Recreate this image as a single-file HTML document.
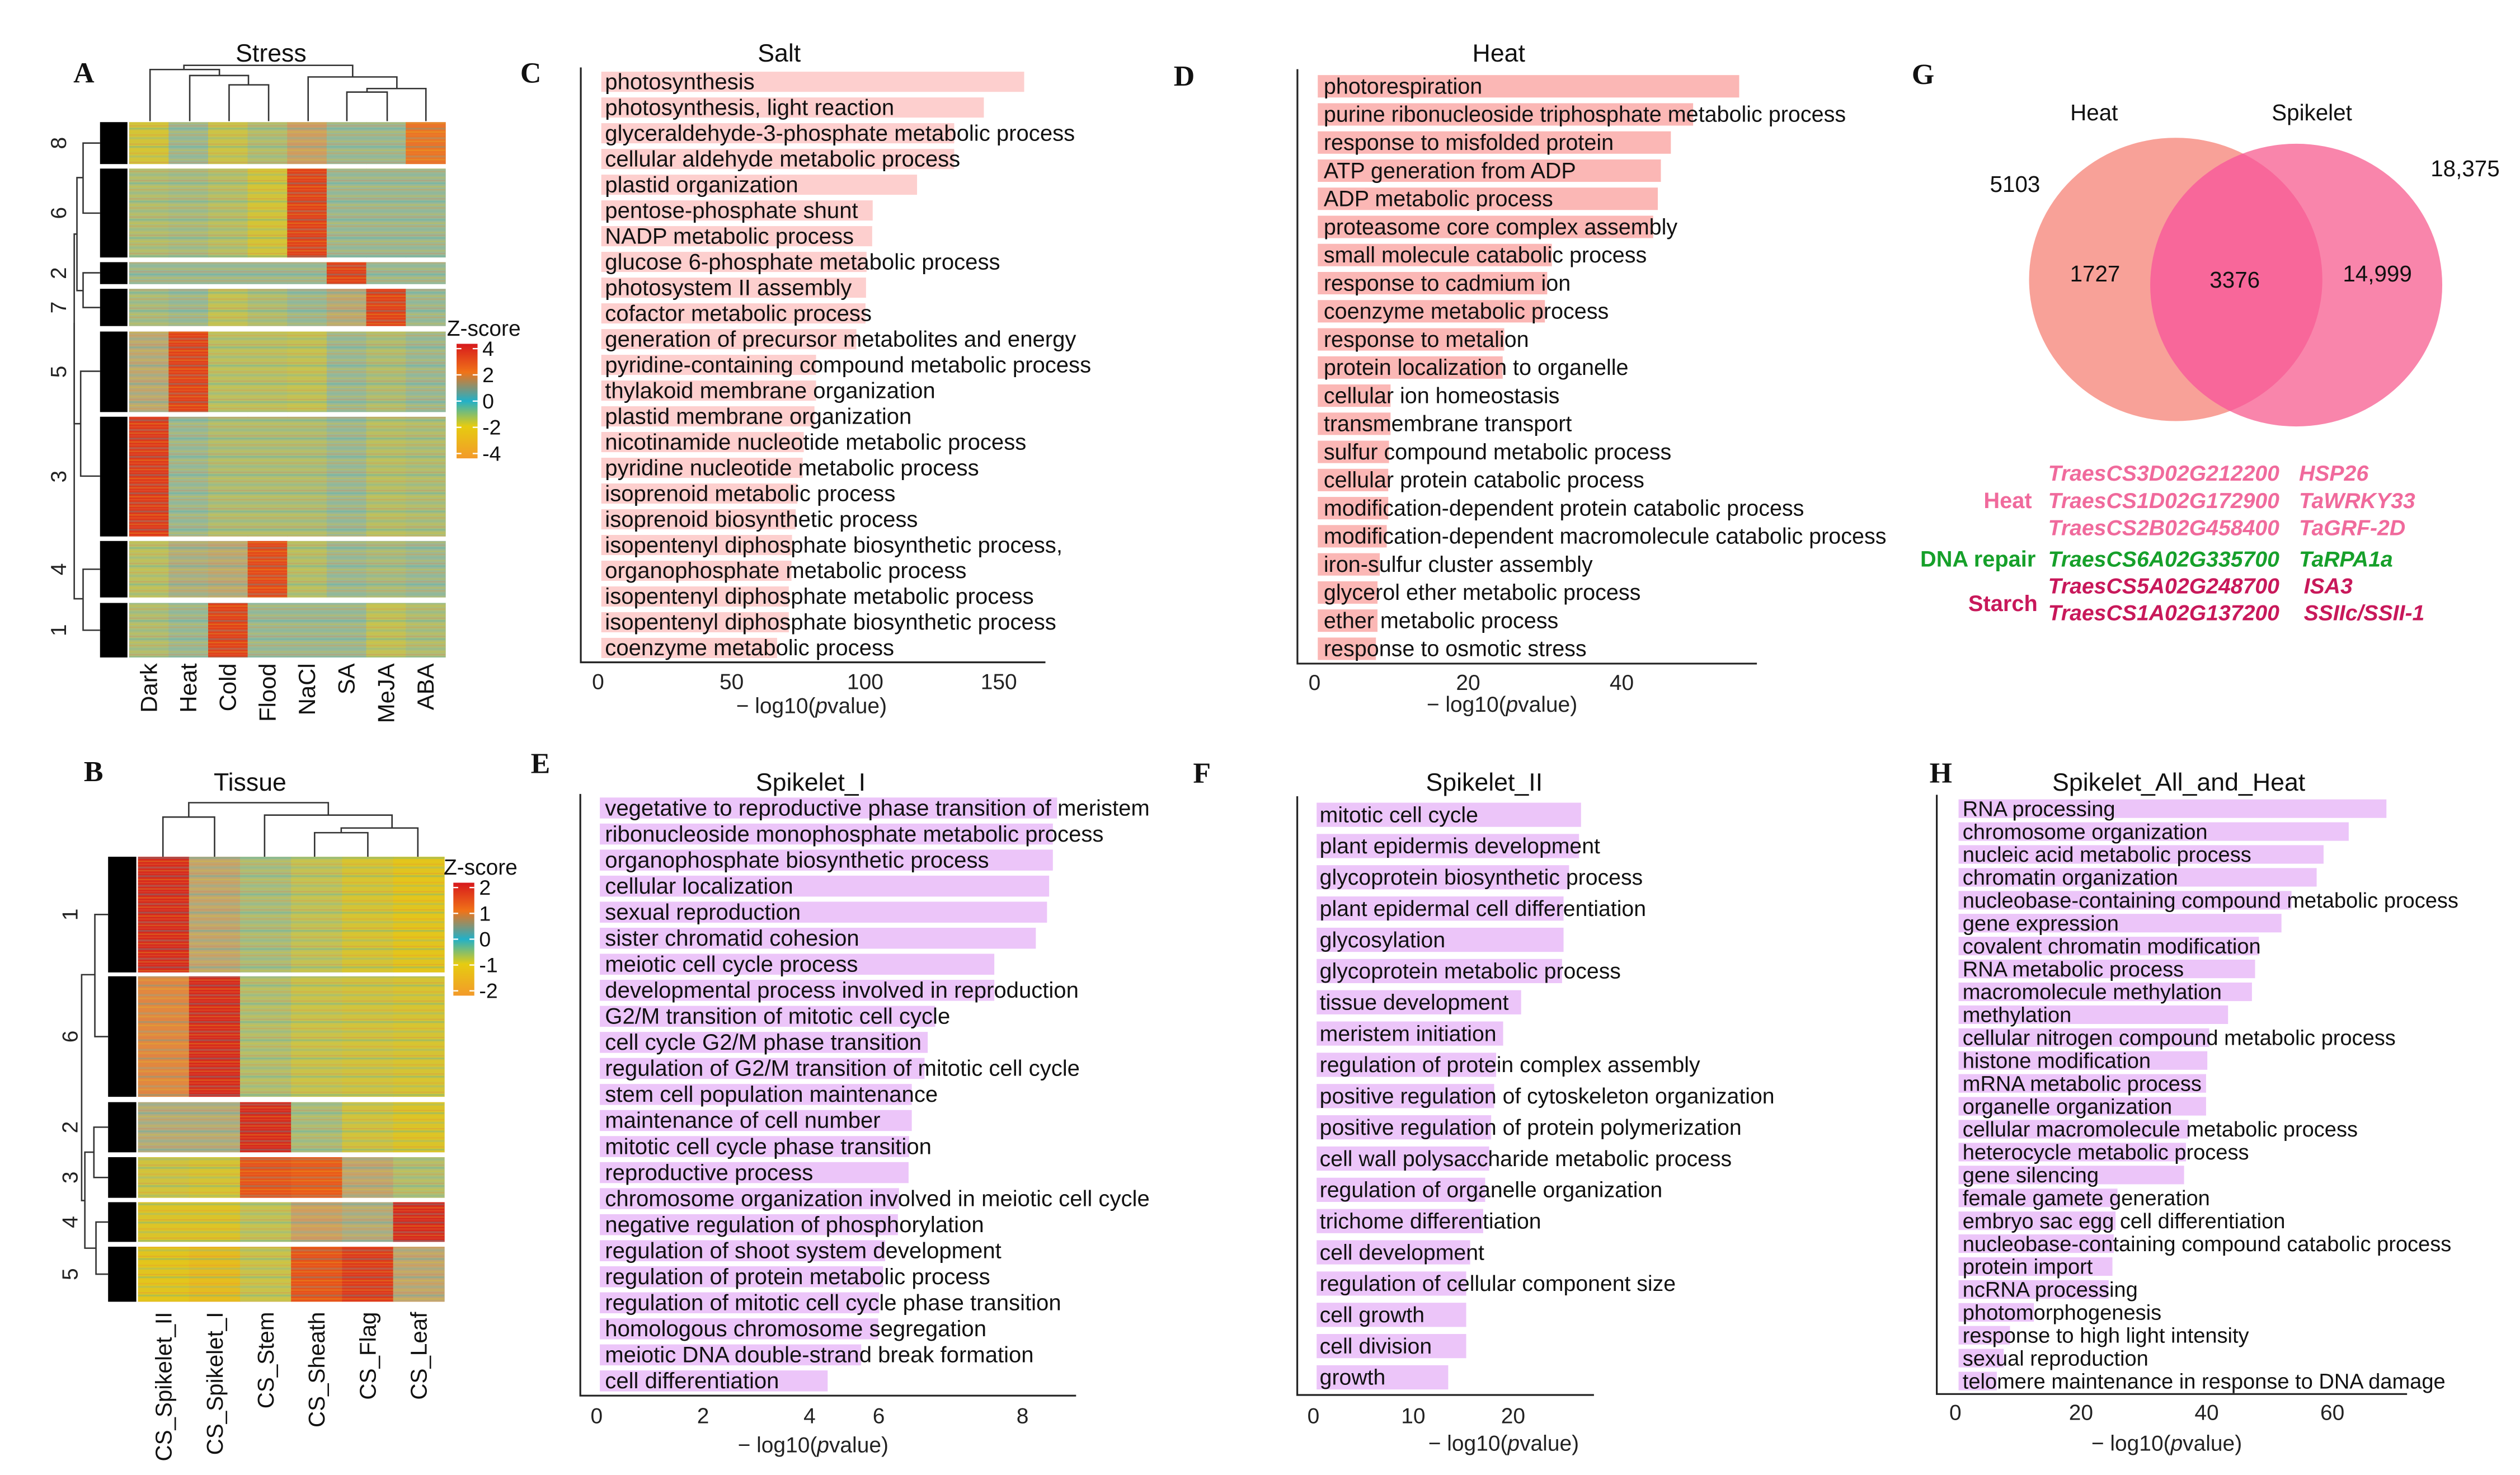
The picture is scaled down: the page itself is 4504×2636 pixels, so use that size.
<!DOCTYPE html>
<html><head><meta charset="utf-8">
<style>
html,body{margin:0;padding:0;background:#fff;}
svg{display:block;font-family:"Liberation Sans",Arial,sans-serif;}
.lbl{fill:#111;}
.tick{font-size:13.5px;fill:#222;}
.ttl{font-size:15.5px;fill:#111;}
.letter{font-family:"Liberation Serif",serif;font-weight:bold;font-size:18px;fill:#111;}
.gene{font-weight:bold;font-style:italic;font-size:13.6px;}
</style></head>
<body>
<svg id="fig" width="4504" height="2636" viewBox="0 0 1562 914" xmlns="http://www.w3.org/2000/svg">
<defs>
<linearGradient id="gz" x1="0" y1="0" x2="0" y2="1">
<stop offset="0" stop-color="#d7191c"/><stop offset="0.25" stop-color="#f07318"/><stop offset="0.5" stop-color="#22b0c8"/><stop offset="0.72" stop-color="#e6cc10"/><stop offset="1" stop-color="#f39a2a"/>
</linearGradient>
<pattern id="stripes" patternUnits="userSpaceOnUse" width="300" height="11.3">
<rect x="0" y="0" width="300" height="1.1" fill="#30b0c8"/>
<rect x="0" y="2.2" width="300" height="0.9" fill="#e8c818"/>
<rect x="0" y="4.1" width="300" height="0.8" fill="#f08a30"/>
<rect x="0" y="5.9" width="300" height="1.2" fill="#6cb8b0"/>
<rect x="0" y="8.0" width="300" height="0.9" fill="#d8c030"/>
<rect x="0" y="9.8" width="300" height="0.7" fill="#e07050"/>
</pattern>
</defs>
<g id="root"></g>
</svg>
<script>
// ---------- DATA ----------
const stressCols = ["Dark","Heat","Cold","Flood","NaCl","SA","MeJA","ABA"];
const stressClusters = ["8","6","2","7","5","3","4","1"];
const stressZ = [
 [-1.5,0,-1.2,-0.5,0.8,0,0,1.8],
 [-0.5,-0.3,-0.7,-1.5,3,0,0,0],
 [0,0,0,0,0,3,0,0],
 [-0.3,0,-1,-0.5,0,0.5,3,0],
 [0.5,3,-0.8,-0.8,-1,0,-0.5,0],
 [3.2,0,-0.5,-0.5,-0.5,0,-0.7,-0.5],
 [-0.8,0.3,0.5,2.8,-0.7,0,-0.3,0],
 [-0.5,0,3,0,0,0,-1,-0.5]
];
const stressTicks = ["4","2","0","-2","-4"];
const tissueCols = ["CS_Spikelet_II","CS_Spikelet_I","CS_Stem","CS_Sheath","CS_Flag","CS_Leaf"];
const tissueClusters = ["1","6","2","3","4","5"];
const tissueZ = [
 [1.8,0.3,-0.2,-0.5,-0.8,-1],
 [0.7,1.8,-0.3,-0.6,-0.7,-0.8],
 [0.2,0.2,1.8,-0.2,-0.7,-0.9],
 [-0.7,-0.8,1.3,1.2,0.3,-0.3],
 [-0.9,-0.9,-0.5,0.4,0.2,1.8],
 [-1,-1.2,-0.6,1.3,1.6,0.3]
];
const tissueTicks = ["2","1","0","-1","-2"];

const saltTerms = ["photosynthesis","photosynthesis, light reaction","glyceraldehyde-3-phosphate metabolic process","cellular aldehyde metabolic process","plastid organization","pentose-phosphate shunt","NADP metabolic process","glucose 6-phosphate metabolic process","photosystem II assembly","cofactor metabolic process","generation of precursor metabolites and energy","pyridine-containing compound metabolic process","thylakoid membrane organization","plastid membrane organization","nicotinamide nucleotide metabolic process","pyridine nucleotide metabolic process","isoprenoid metabolic process","isoprenoid biosynthetic process","isopentenyl diphosphate biosynthetic process,","organophosphate metabolic process","isopentenyl diphosphate metabolic process","isopentenyl diphosphate biosynthetic process","coenzyme metabolic process"];
const saltValues = [159.5,144.4,133.3,133.3,119.4,102.8,102.6,100.5,100.3,100.1,96.7,81.6,81.6,81,77,76.6,74.6,74,72.6,72.4,71.4,71.4,67];
const saltTicks = [0,50,100,150];

const heatTerms = ["photorespiration","purine ribonucleoside triphosphate metabolic process","response to misfolded protein","ATP generation from ADP","ADP metabolic process","proteasome core complex assembly","small molecule catabolic process","response to cadmium ion","coenzyme metabolic process","response to metalion","protein localization to organelle","cellular ion homeostasis","transmembrane transport","sulfur compound metabolic process","cellular protein catabolic process","modification-dependent protein catabolic process","modification-dependent macromolecule catabolic process","iron-sulfur cluster assembly","glycerol ether metabolic process","ether metabolic process","response to osmotic stress"];
const heatValues = [55.3,49.3,46.4,45.1,44.7,44.1,30.9,30.3,30,24.7,24.5,9.9,9.9,9.7,9.6,9.6,9.4,8.5,8.2,8.2,8];
const heatTicks = [0,20,40];

const sp1Terms = ["vegetative to reproductive phase transition of meristem","ribonucleoside monophosphate metabolic process","organophosphate biosynthetic process","cellular localization","sexual reproduction","sister chromatid cohesion","meiotic cell cycle process","developmental process involved in reproduction","G2/M transition of mitotic cell cycle","cell cycle G2/M phase transition","regulation of G2/M transition of mitotic cell cycle","stem cell population maintenance","maintenance of cell number","mitotic cell cycle phase transition","reproductive process","chromosome organization involved in meiotic cell cycle","negative regulation of phosphorylation","regulation of shoot system development","regulation of protein metabolic process","regulation of mitotic cell cycle phase transition","homologous chromosome segregation","meiotic DNA double-strand break formation","cell differentiation"];
const sp1Values = [8.65,8.57,8.57,8.5,8.46,8.25,7.47,7.47,6.36,6.22,6.16,5.92,5.92,5.87,5.86,5.68,5.66,5.42,5.38,5.31,5.29,4.97,4.34];
const sp1TickPos = [0,2,4,5.3,8];
const sp1TickLabels = ["0","2","4","6","8"];

const sp2Terms = ["mitotic cell cycle","plant epidermis development","glycoprotein biosynthetic process","plant epidermal cell differentiation","glycosylation","glycoprotein metabolic process","tissue development","meristem initiation","regulation of protein complex assembly","positive regulation of cytoskeleton organization","positive regulation of protein polymerization","cell wall polysaccharide metabolic process","regulation of organelle organization","trichome differentiation","cell development","regulation of cellular component size","cell growth","cell division","growth"];
const sp2Values = [26.8,26.6,25.6,25.05,25.05,24.9,20.8,19,18.3,18.1,17.8,17.6,17.2,17,15.7,15.3,15.3,15.3,13.5];
const sp2Ticks = [0,10,20];

const allTerms = ["RNA processing","chromosome organization","nucleic acid metabolic process","chromatin organization","nucleobase-containing compound metabolic process","gene expression","covalent chromatin modification","RNA metabolic process","macromolecule methylation","methylation","cellular nitrogen compound metabolic process","histone modification","mRNA metabolic process","organelle organization","cellular macromolecule metabolic process","heterocycle metabolic process","gene silencing","female gamete generation","embryo sac egg cell differentiation","nucleobase-containing compound catabolic process","protein import","ncRNA processing","photomorphogenesis","response to high light intensity","sexual reproduction","telomere maintenance in response to DNA damage"];
const allValues = [68.6,62.6,58.6,57.5,53.5,51.9,48.3,47.7,47.2,43.4,40.4,40.1,39.9,39.9,37.1,36.7,36.4,25.8,25.5,25.2,25,24.4,12.5,8.7,7.7,6.6];
const allTicks = [0,20,40,60];

const vennSets = ["Heat","Spikelet"];
const vennTotals = ["5103","18,375"];
const vennRegions = ["1727","3376","14,999"];

// ---------- HELPERS ----------
const NS = "http://www.w3.org/2000/svg";
const root = document.getElementById('root');
function mk(tag, attrs, parent, text){
  const e = document.createElementNS(NS, tag);
  for (const k in attrs) e.setAttribute(k, attrs[k]);
  if (text !== undefined) e.textContent = text;
  (parent || root).appendChild(e);
  return e;
}
function hex(c){return [parseInt(c.slice(1,3),16),parseInt(c.slice(3,5),16),parseInt(c.slice(5,7),16)];}
const stops = [[-4,"#f39a2a"],[-2,"#e2c51c"],[-1,"#c0c25a"],[0,"#9cb894"],[1,"#d69a5c"],[2,"#ef6a18"],[3,"#e0401a"],[4,"#cf1a1e"]];
function zcol(z){
  z = Math.max(-4, Math.min(4, z));
  for (let i=0;i<stops.length-1;i++){
    const a=stops[i], b=stops[i+1];
    if (z>=a[0] && z<=b[0]){
      const t=(z-a[0])/(b[0]-a[0]); const ca=hex(a[1]), cb=hex(b[1]);
      return "rgb("+ca.map((v,k)=>Math.round(v+(cb[k]-v)*t)).join(",")+")";
    }
  }
  return stops[stops.length-1][1];
}

// ---------- HEATMAPS ----------
function heatmap(cfg){
  const g = mk('g', {});
  
  
  const cw = (cfg.x1 - cfg.x0) / cfg.cols.length;
  cfg.clusters.forEach((cl, i) => {
    const y0 = cfg.bounds[i][0], y1 = cfg.bounds[i][1];
    cfg.z[i].forEach((z, j) => {
      const r = mk('rect', {x:cfg.x0 + j*cw, y:y0, width:cw+0.3, height:y1-y0, fill:zcol(z*cfg.zmul)}, g);
      
      
    });
    const st = mk('rect', {x:cfg.x0, y:y0, width:cfg.x1-cfg.x0, height:y1-y0, fill:"url(#stripes)", opacity:0.28}, g);
    
    
    const blob = mk('rect', {x:cfg.bx0, y:y0, width:cfg.x0-cfg.bx0-1, height:y1-y0, fill:"#000"}, g);
    
    
    const t = mk('text', {x:cfg.rlx, y:(y0+y1)/2, class:"tick", 'text-anchor':"middle", transform:`rotate(-90 ${cfg.rlx} ${(y0+y1)/2})`, dy:5}, g, cl);
    
    
  });
  cfg.cols.forEach((c, j) => {
    const x = cfg.x0 + (j+0.5)*cw + 5;
    const t = mk('text', {x:x, y:cfg.clY, 'text-anchor':"end", style:"font-size:"+cfg.clFont+"px", fill:"#111", transform:`rotate(-90 ${x} ${cfg.clY})`}, g, c);
    
    
  });
  return {g, cw};
}
heatmap({name:"stress-heatmap", x0:80, x1:276, bx0:62, cols:stressCols, clusters:stressClusters, z:stressZ, zmul:1,
  bounds:[[75.6,101.6],[104.4,159.5],[162.4,176],[178.9,202],[205.4,255.3],[258.2,332.4],[335.2,370.2],[373.6,407.4]], rlx:36, clY:411, clFont:14.5});
heatmap({name:"tissue-heatmap", x0:85.5, x1:275.3, bx0:67, cols:tissueCols, clusters:tissueClusters, z:tissueZ, zmul:2,
  bounds:[[530.9,602.6],[605,679.7],[683,714.1],[717.1,742.3],[745,769.6],[772.6,806.7]], rlx:43, clY:813, clFont:14});

// dendrograms (decorative)
function paths(list, name){
  list.forEach(d => {
    const p = mk('path', {d:d, fill:"none", stroke:"#333", 'stroke-width':0.9});
    
    
  });
}
paths([
 "M93 75V43H136V46.7", "M117.6 75V46.7H154V52.5", "M142 75V52.5H166.5V75",
 "M114 43V40.4H218.6V47.6", "M191 75V47.6H246V54.8", "M227.5 57V54.8H264V75", "M215 75V57H240V75"
], "stress-column-dendrogram");
paths([
 "M62 88.6H51.5V132H62", "M62 169H51.5V190.5H62", "M51.5 110H47.7V180H51.5",
 "M62 230H50V295H62", "M62 352.7H51.5V390.5H62", "M47.7 145H46V262.5H50", "M51.5 371H46V200"
], "stress-row-dendrogram");
paths([
 "M101 530.9V506.3H133V530.9", "M164 530.9V505.1H243V513.1", "M195 530.9V516H228V530.9",
 "M211.5 516V513.1H259V530.9", "M117 506.3V497.4H203.5V505.1"
], "tissue-column-dendrogram");
paths([
 "M67 566.7H58.8V642.4H67", "M67 698.5H58.2V729.7H67", "M67 757.3H59.5V789.6H67",
 "M58.2 714H52.6V773.5H59.5", "M58.8 604H50.6V744H52.6"
], "tissue-row-dendrogram");

// legends
function zlegend(x, y, h, title, ticks, name){
  const g = mk('g', {});
  
  
  mk('text', {x:x-6, y:y-5, 'font-size':13.5, fill:"#111"}, g, title);
  mk('rect', {x:x, y:y, width:13, height:h, fill:"url(#gz)"}, g);
  ticks.forEach((t, i) => {
    const yy = y + 3 + i*(h-6)/(ticks.length-1);
    mk('line', {x1:x, x2:x+3, y1:yy, y2:yy, stroke:"#fff", 'stroke-width':0.8}, g);
    mk('line', {x1:x+10, x2:x+13, y1:yy, y2:yy, stroke:"#fff", 'stroke-width':0.8}, g);
    mk('text', {x:x+16, y:yy+4.5, 'font-size':13, fill:"#111"}, g, t);
  });
}
zlegend(283, 213, 71, "Z-score", stressTicks, "stress-zscore-legend");
zlegend(281, 547, 70, "Z-score", tissueTicks, "tissue-zscore-legend");

// ---------- BAR PANELS ----------
function barPanel(c){
  const g = mk('g', {});
  
  
  const xs = v => c.x0 + v * c.k;
  const ax = mk('path', {d:`M${c.ax} ${c.top}V${c.bottom}H${c.axEnd}`, fill:"none", stroke:"#222", 'stroke-width':1.1}, g);
  
  
  c.values.forEach((v, i) => {
    const cy = c.y0 + i*c.step;
    const b = mk('rect', {x:xs(0)+2, y:cy-c.bh/2, width:Math.max(0, xs(v)-xs(0)-2), height:c.bh, fill:c.color}, g);
    
    
  });
  c.terms.forEach((t, i) => {
    const cy = c.y0 + i*c.step;
    const tx = mk('text', {x:c.lx, y:cy+4.6, class:"lbl", style:"font-size:"+c.fs+"px"}, g, t);
    
    
  });
  c.tickPos.forEach((v, i) => {
    const tk = mk('text', {x:xs(v), y:c.tickY, class:"tick", 'text-anchor':"middle"}, g, c.tickLabels[i]);
    
    
  });
  const at = mk('text', {x:c.atx, y:c.aty, class:"tick", 'text-anchor':"middle"}, g);
  
  
  mk('tspan', {}, at, "\u2212 log10(");
  mk('tspan', {'font-style':"italic"}, at, "p");
  mk('tspan', {}, at, "value)");
  const tt = mk('text', {x:c.tx, y:c.ty, class:"ttl", 'text-anchor':"middle"}, g, c.title);
  
  
}
barPanel({name:"salt-go-chart", title:"Salt", tx:483, ty:38, terms:saltTerms, values:saltValues, tickPos:saltTicks, tickLabels:saltTicks.map(String),
  x0:370.7, k:1.656, ax:360, top:41.7, bottom:410.4, axEnd:648, y0:50.6, step:15.95, bh:12.5, lx:375, fs:13.9, color:"#fdcfce", tickY:427, atx:503, aty:442});
barPanel({name:"heat-go-chart", title:"Heat", tx:929, ty:38, terms:heatTerms, values:heatValues, tickPos:heatTicks, tickLabels:heatTicks.map(String),
  x0:814.8, k:4.76, ax:804.2, top:42.8, bottom:411.2, axEnd:1089, y0:53.4, step:17.43, bh:13.9, lx:820.5, fs:13.7, color:"#fbb7b5", tickY:427.5, atx:931, aty:441});
barPanel({name:"spikelet-i-go-chart", title:"Spikelet_I", tx:502.5, ty:490, terms:sp1Terms, values:sp1Values, tickPos:sp1TickPos, tickLabels:sp1TickLabels,
  x0:369.8, k:33.0, ax:359.7, top:492, bottom:864.9, axEnd:667, y0:500.7, step:16.14, bh:13, lx:375, fs:13.9, color:"#ecc5f9", tickY:882, atx:504, aty:900});
barPanel({name:"spikelet-ii-go-chart", title:"Spikelet_II", tx:920, ty:490, terms:sp2Terms, values:sp2Values, tickPos:sp2Ticks, tickLabels:sp2Ticks.map(String),
  x0:814.1, k:6.19, ax:804.1, top:493.4, bottom:864.5, axEnd:988, y0:504.9, step:19.37, bh:15, lx:818, fs:13.6, color:"#ecc5f9", tickY:882, atx:932, aty:899});
barPanel({name:"spikelet-all-and-heat-go-chart", title:"Spikelet_All_and_Heat", tx:1350.5, ty:490, terms:allTerms, values:allValues, tickPos:allTicks, tickLabels:allTicks.map(String),
  x0:1212, k:3.895, ax:1200.5, top:492.5, bottom:863.9, axEnd:1492, y0:501.1, step:14.19, bh:11.5, lx:1216.5, fs:13.2, color:"#ecc5f9", tickY:880, atx:1343, aty:899});

// ---------- VENN ----------
const vg = mk('g', {});


const e1 = mk('ellipse', {cx:1348.6, cy:173.1, rx:90.9, ry:87.8, fill:"#f8a198"}, vg);


const e2 = mk('ellipse', {cx:1423.3, cy:176.6, rx:90.5, ry:87.6, fill:"#f985ab"}, vg);


mk('clipPath', {id:"c1"}, vg);
mk('ellipse', {cx:1348.6, cy:173.1, rx:90.9, ry:87.8}, document.getElementById('c1'));
const e3 = mk('ellipse', {cx:1423.3, cy:176.6, rx:90.5, ry:87.6, fill:"#f8679a", 'clip-path':"url(#c1)"}, vg);


[[1298,69.5],[1433,69.5]].forEach((p,i)=>{ const t=mk('text',{x:p[0],y:p[1]+5,'text-anchor':"middle",'font-size':14,fill:"#111"},vg,vennSets[i]);  });
[[1249,113.8],[1528,104.1]].forEach((p,i)=>{ const t=mk('text',{x:p[0],y:p[1]+5,'text-anchor':"middle",'font-size':14,fill:"#111"},vg,vennTotals[i]);  });
[[1298.6,169.3],[1385.2,173.2],[1473.6,169.3]].forEach((p,i)=>{ const t=mk('text',{x:p[0],y:p[1]+5,'text-anchor':"middle",'font-size':14,fill:"#111"},vg,vennRegions[i]);  });

// gene list
const genes = [
 ["TraesCS3D02G212200","HSP26",292.8,"#f06a9c"],
 ["TraesCS1D02G172900","TaWRKY33",309.9,"#f06a9c"],
 ["TraesCS2B02G458400","TaGRF-2D",326.6,"#f06a9c"],
 ["TraesCS6A02G335700","TaRPA1a",346,"#16a02a"],
 ["TraesCS5A02G248700","ISA3",362.7,"#c8185a"],
 ["TraesCS1A02G137200","SSIIc/SSII-1",379.3,"#c8185a"]
];
genes.forEach(g => {
  const a = mk('text', {x:1269.5, y:g[2]+5, class:"gene", fill:g[3]}, vg, g[0]);
  
  
  const b = mk('text', {x:g[1]==="ISA3"||g[1]==="SSIIc/SSII-1"?1428:1425, y:g[2]+5, class:"gene", fill:g[3]}, vg, g[1]);
  
  
});
[["Heat",1244.5,309.9,"#f06a9c"],["DNA  repair",1226,346,"#16a02a"],["Starch",1241.5,373.7,"#c8185a"]].forEach(c=>{
  const t = mk('text', {x:c[1], y:c[2]+5, 'text-anchor':"middle", 'font-weight':"bold", 'font-size':13.8, fill:c[3], 'xml:space':"preserve"}, vg, c[0]);
  
  
});

// ---------- PANEL LETTERS & TITLES ----------
[["A",52,51],["B",58,484],["C",329,51],["D",734,53],["E",335,479],["F",745,485],["G",1192,52],["H",1203,485]].forEach(l=>{
  const t = mk('text', {x:l[1], y:l[2], class:"letter", 'text-anchor':"middle"}, root, l[0]);
  
  
});
[["Stress",168,38],["Tissue",155,490]].forEach(l=>{
  const t = mk('text', {x:l[1], y:l[2], class:"ttl", 'text-anchor':"middle"}, root, l[0]);
  
  
});
</script>
</body></html>
